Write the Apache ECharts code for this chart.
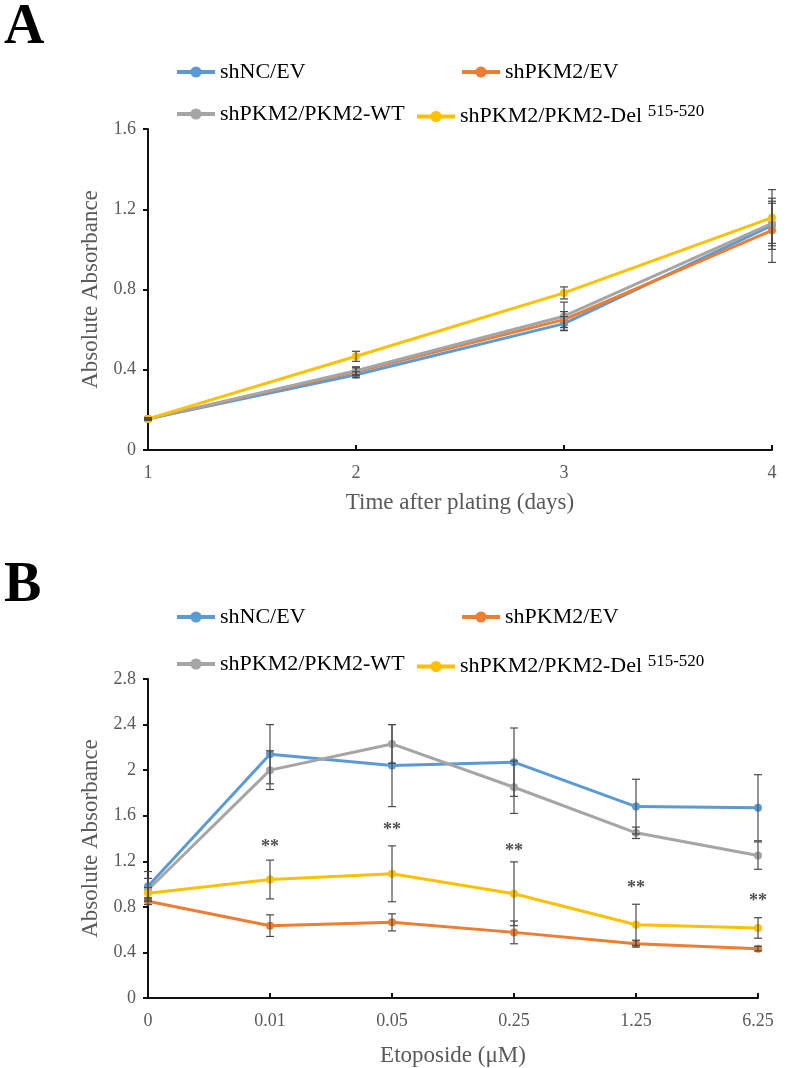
<!DOCTYPE html>
<html>
<head>
<meta charset="utf-8">
<script src="https://cdn.jsdelivr.net/npm/echarts@6/dist/echarts.min.js"></script>
<style>
html,body{margin:0;padding:0;background:#fff;}
#chart{width:793px;height:1068px;}
</style>
</head>
<body>
<div id="chart"></div>
<script>
// ---------- data ----------
var seriesNames = ['shNC/EV', 'shPKM2/EV', 'shPKM2/PKM2-WT', 'shPKM2/PKM2-Del 515-520'];
var colors = ['#5B9BD5', '#ED7D31', '#A5A5A5', '#FFC000'];

// Panel A
var daysA = ['1', '2', '3', '4'];
var yTicksA = [0, 0.4, 0.8, 1.2, 1.6];
var blueA = [0.155, 0.375, 0.630, 1.120];
var orangeA = [0.155, 0.390, 0.650, 1.095];
var grayA = [0.155, 0.395, 0.667, 1.130];
var yellowA = [0.155, 0.467, 0.783, 1.158];
var blueErrA = [0.005, 0.015, 0.035, 0.12];
var orangeErrA = [0.005, 0.020, 0.040, 0.16];
var grayErrA = [0.005, 0.020, 0.070, 0.10];
var yellowErrA = [0.005, 0.025, 0.030, 0.14];

// Panel B
var doseB = ['0', '0.01', '0.05', '0.25', '1.25', '6.25'];
var yTicksB = [0, 0.4, 0.8, 1.2, 1.6, 2, 2.4, 2.8];
var blueB = [0.98, 2.14, 2.04, 2.07, 1.68, 1.67];
var orangeB = [0.85, 0.635, 0.664, 0.576, 0.477, 0.433];
var grayB = [0.95, 2.00, 2.23, 1.85, 1.45, 1.25];
var yellowB = [0.92, 1.04, 1.09, 0.915, 0.643, 0.615];
var blueErrB = [0.13, 0.26, 0.36, 0.30, 0.24, 0.29];
var orangeErrB = [0.03, 0.095, 0.075, 0.10, 0.03, 0.02];
var grayErrB = [0.10, 0.17, 0.17, 0.23, 0.05, 0.12];
var yellowErrB = [0.05, 0.17, 0.245, 0.28, 0.18, 0.09];
// significance marks (**) : category and height
var starCatsB = ['0.01', '0.05', '0.25', '1.25', '6.25'];
var starYB = [1.36, 1.51, 1.32, 0.995, 0.88];
var starText = '**';

// ---------- helpers ----------
var FONT = 'Liberation Serif';
var TXT = '#595959';

function errData(vals, errs) {
  return vals.map(function (v, i) { return [i, v - errs[i], v + errs[i]]; });
}

function errSeries(xi, yi, data) {
  return {
    type: 'custom',
    xAxisIndex: xi, yAxisIndex: yi,
    z: 5,
    silent: true,
    data: data,
    renderItem: function (params, api) {
      var x = api.value(0);
      var lo = api.coord([x, api.value(1)]);
      var hi = api.coord([x, api.value(2)]);
      var w = 4;
      var st = { stroke: '#4a4a4a', lineWidth: 1.2 };
      return {
        type: 'group',
        children: [
          { type: 'line', shape: { x1: lo[0], y1: lo[1], x2: hi[0], y2: hi[1] }, style: st },
          { type: 'line', shape: { x1: lo[0] - w, y1: lo[1], x2: lo[0] + w, y2: lo[1] }, style: st },
          { type: 'line', shape: { x1: hi[0] - w, y1: hi[1], x2: hi[0] + w, y2: hi[1] }, style: st }
        ]
      };
    }
  };
}

function lineSeries(name, idx, xi, yi, data) {
  return {
    name: name,
    type: 'line',
    xAxisIndex: xi, yAxisIndex: yi,
    data: data,
    color: colors[idx],
    symbol: 'circle',
    symbolSize: 8,
    lineStyle: { width: 3, color: colors[idx] },
    itemStyle: { color: colors[idx] },
    z: 3
  };
}

function legendItem(name, left, top) {
  return {
    data: [name],
    left: left, top: top,
    orient: 'horizontal',
    itemWidth: 38, itemHeight: 14,
    selectedMode: false,
    lineStyle: { width: 4 },
    textStyle: {
      fontFamily: FONT, fontSize: 22, color: '#000',
      rich: {
        m: { fontFamily: FONT, fontSize: 22, color: '#000' },
        s: { fontFamily: FONT, fontSize: 17, color: '#000', verticalAlign: 'top', padding: [0, 0, 10, 0] }
      }
    },
    formatter: function (n) {
      var parts = n.split(' ');
      if (parts.length > 1) return '{m|' + parts[0] + ' }{s|' + parts[1] + '}';
      return '{m|' + n + '}';
    }
  };
}

var legends = [];
[[56, 98], [601, 648]].forEach(function (rows) {
  legends.push(legendItem(seriesNames[0], 170, rows[0]));
  legends.push(legendItem(seriesNames[1], 455, rows[0]));
  legends.push(legendItem(seriesNames[2], 170, rows[1]));
  legends.push(legendItem(seriesNames[3], 410, rows[1]));
});

function xAxisCfg(gi, cats, name, gap) {
  return {
    type: 'category', gridIndex: gi, data: cats, boundaryGap: false,
    axisLine: { lineStyle: { color: '#111', width: 2 } },
    axisTick: { show: true, inside: true, length: 5, lineStyle: { color: '#111', width: 2 } },
    axisLabel: { fontFamily: FONT, fontSize: 18, color: TXT, margin: 14 },
    name: name, nameLocation: 'middle', nameGap: gap,
    nameTextStyle: { fontFamily: FONT, fontSize: 23, color: TXT }
  };
}
function yAxisCfg(gi, ticks, gap) {
  return {
    type: 'value', gridIndex: gi,
    min: ticks[0], max: ticks[ticks.length - 1], interval: ticks[1] - ticks[0],
    splitLine: { show: false },
    axisLine: { show: true, lineStyle: { color: '#111', width: 2 } },
    axisTick: { show: true, length: 5, lineStyle: { color: '#111', width: 2 } },
    axisLabel: { fontFamily: FONT, fontSize: 18, color: TXT, margin: 12 },
    name: 'Absolute Absorbance', nameLocation: 'middle', nameGap: gap,
    nameTextStyle: { fontFamily: FONT, fontSize: 23, color: TXT }
  };
}

var series = [
  lineSeries(seriesNames[0], 0, 0, 0, blueA),
  lineSeries(seriesNames[1], 1, 0, 0, orangeA),
  lineSeries(seriesNames[2], 2, 0, 0, grayA),
  lineSeries(seriesNames[3], 3, 0, 0, yellowA),
  errSeries(0, 0, errData(blueA, blueErrA)),
  errSeries(0, 0, errData(orangeA, orangeErrA)),
  errSeries(0, 0, errData(grayA, grayErrA)),
  errSeries(0, 0, errData(yellowA, yellowErrA)),
  lineSeries(seriesNames[0], 0, 1, 1, blueB),
  lineSeries(seriesNames[1], 1, 1, 1, orangeB),
  lineSeries(seriesNames[2], 2, 1, 1, grayB),
  lineSeries(seriesNames[3], 3, 1, 1, yellowB),
  errSeries(1, 1, errData(blueB, blueErrB)),
  errSeries(1, 1, errData(orangeB, orangeErrB)),
  errSeries(1, 1, errData(grayB, grayErrB)),
  errSeries(1, 1, errData(yellowB, yellowErrB)),
  {
    type: 'scatter', xAxisIndex: 1, yAxisIndex: 1,
    symbolSize: 1, itemStyle: { color: 'rgba(0,0,0,0)' },
    silent: true, z: 6,
    data: starCatsB.map(function (c, i) { return [c, starYB[i]]; }),
    label: {
      show: true, position: 'inside', formatter: starText,
      fontFamily: FONT, fontSize: 18, fontWeight: 'bold', color: '#222', offset: [0, 4]
    }
  }
];

var chart = echarts.init(document.getElementById('chart'), null, { renderer: 'canvas' });
chart.setOption({
  backgroundColor: '#fff',
  animation: false,
  legend: legends,
  grid: [
    { left: 148, right: 21, top: 129, height: 321 },
    { left: 148, right: 35, top: 679, height: 319 }
  ],
  xAxis: [
    xAxisCfg(0, daysA, 'Time after plating (days)', 41),
    xAxisCfg(1, doseB, 'Etoposide (\u03bcM)', 46)
  ],
  yAxis: [
    yAxisCfg(0, yTicksA, 40),
    yAxisCfg(1, yTicksB, 40)
  ],
  graphic: [
    { type: 'text', left: 4, top: 1, style: { text: 'A', font: 'bold 56px "Liberation Serif"', fill: '#000' } },
    { type: 'text', left: 4, top: 559, style: { text: 'B', font: 'bold 56px "Liberation Serif"', fill: '#000' } }
  ],
  series: series
});
</script>
</body>
</html>
